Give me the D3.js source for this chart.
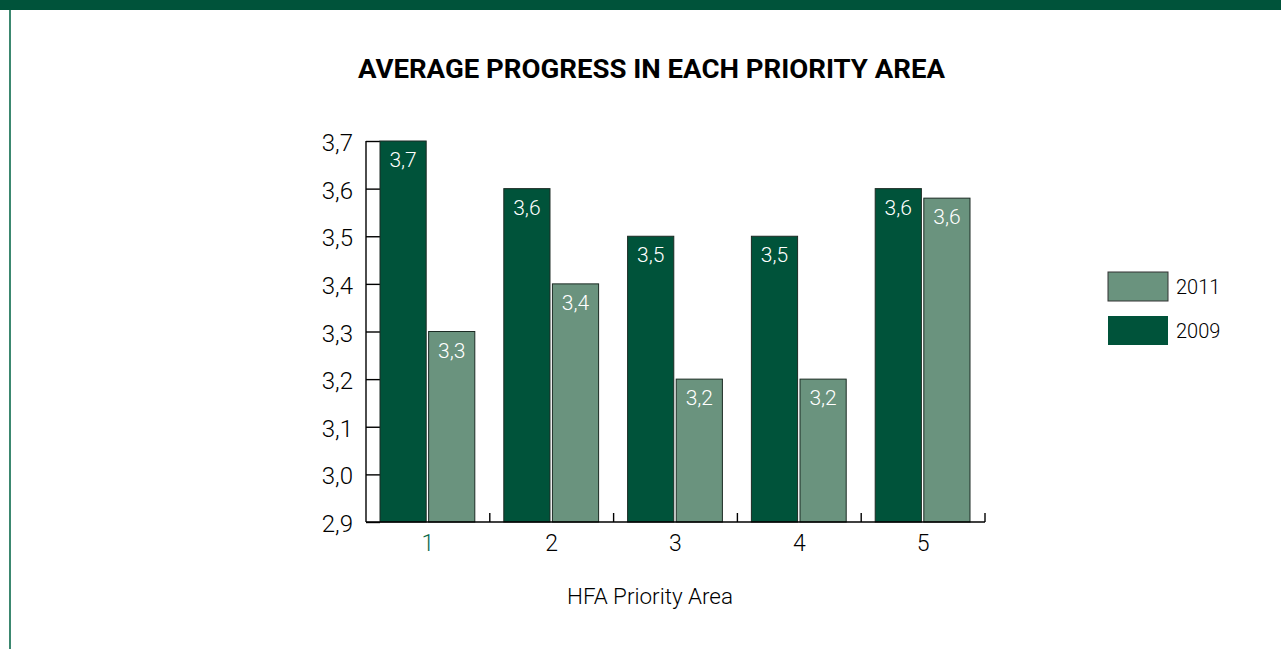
<!DOCTYPE html>
<html>
<head>
<meta charset="utf-8">
<script src="https://cdnjs.cloudflare.com/ajax/libs/d3/7.8.5/d3.min.js"></script>
<style>
  body { margin: 0; background: #fff; }
  text { font-family: "Roboto", "Liberation Sans", sans-serif; font-weight: 300; }
</style>
</head>
<body>
<script>
// chart data
var categories = ["1", "2", "3", "4", "5"];
var series = ["2009", "2011"];
var values2009 = [3.7, 3.6, 3.5, 3.5, 3.6];
var values2011 = [3.3, 3.4, 3.2, 3.2, 3.58];
var yTicks = [2.9, 3.0, 3.1, 3.2, 3.3, 3.4, 3.5, 3.6, 3.7];

var W = 1281, H = 649;
var dark = "#00533a", light = "#6a937e";

var svg = d3.select("body").append("svg")
            .attr("width", W)
            .attr("height", H);

// top band and left rule
svg.append("rect").attr("x", 0).attr("y", 0).attr("width", W).attr("height", 10).attr("fill", dark);
svg.append("line").attr("x1", 10).attr("x2", 10).attr("y1", 10).attr("y2", H)
   .attr("stroke", "#0b6a4c").attr("stroke-width", 1.6);

// title
svg.append("text")
   .attr("x", 358).attr("y", 78)
   .attr("textLength", 587).attr("lengthAdjust", "spacingAndGlyphs")
   .style("font-size", "26px").style("font-weight", "bold")
   .text("AVERAGE PROGRESS IN EACH PRIORITY AREA");

var x0 = d3.scaleBand().domain(categories).range([366, 985]).paddingInner(0).paddingOuter(0);
var x1 = d3.scaleBand().domain(series).range([14, x0.bandwidth() - 15]).paddingInner(0.05);
var y = d3.scaleLinear().domain([2.9, 3.7]).range([522, 141]);

var fmt = function(v) { return d3.format(".1f")(v).replace(".", ","); };

// y axis (ticks pointing inward)
var yAxis = svg.append("g")
   .attr("transform", "translate(366,0)")
   .call(d3.axisRight(y).tickValues(yTicks).tickSize(14).tickFormat(""));
yAxis.select(".domain").attr("stroke", "#000").attr("stroke-width", 1.4).attr("d", "M0,141V522");
yAxis.selectAll(".tick line").attr("stroke", "#000").attr("stroke-width", 1.4);

svg.selectAll(".ylab")
   .data(yTicks)
   .enter()
   .append("text")
   .attr("class", "ylab")
   .attr("x", 353)
   .attr("y", function(d) { return y(d) + 10; })
   .attr("text-anchor", "end")
   .style("font-size", "24px")
   .text(fmt);

var data = categories.map(function(c, i) {
    return {cat: c, vals: [{s: "2009", v: values2009[i]}, {s: "2011", v: values2011[i]}]};
});

var groups = svg.selectAll(".grp")
   .data(data)
   .enter()
   .append("g")
   .attr("transform", function(d) { return "translate(" + x0(d.cat) + ",0)"; });

groups.selectAll("rect")
   .data(function(d) { return d.vals; })
   .enter()
   .append("rect")
   .attr("x", function(d) { return x1(d.s); })
   .attr("y", function(d) { return y(d.v); })
   .attr("width", x1.bandwidth())
   .attr("height", function(d) { return 522 - y(d.v); })
   .attr("fill", function(d) { return d.s == "2009" ? dark : light; })
   .attr("stroke", "#1c2b24")
   .attr("stroke-width", 1);

groups.selectAll(".vlab")
   .data(function(d) { return d.vals; })
   .enter()
   .append("text")
   .attr("class", "vlab")
   .attr("x", function(d) { return x1(d.s) + x1.bandwidth() / 2; })
   .attr("y", function(d) { return y(d.v) + 26; })
   .attr("text-anchor", "middle")
   .attr("fill", "#fff")
   .style("font-size", "21px")
   .text(function(d) { return fmt(d.v); });

// x axis with separator ticks pointing up
var xAxis = svg.append("g")
   .attr("transform", "translate(0,522)");
xAxis.append("line").attr("x1", 366).attr("x2", 985).attr("y1", 0).attr("y2", 0)
   .attr("stroke", "#000").attr("stroke-width", 1.4);
xAxis.selectAll(".sep")
   .data(categories)
   .enter()
   .append("line")
   .attr("x1", function(d) { return x0(d) + x0.bandwidth(); })
   .attr("x2", function(d) { return x0(d) + x0.bandwidth(); })
   .attr("y1", 0).attr("y2", -9)
   .attr("stroke", "#000").attr("stroke-width", 1.4);
xAxis.selectAll(".xlab")
   .data(categories)
   .enter()
   .append("text")
   .attr("x", function(d) { return x0(d) + x0.bandwidth() / 2; })
   .attr("y", 29)
   .attr("text-anchor", "middle")
   .attr("fill", function(d, i) { return i == 0 ? "#0b6a4c" : "#000"; })
   .style("font-size", "23px")
   .text(function(d) { return d; });

svg.append("text")
   .attr("x", 567).attr("y", 604)
   .attr("textLength", 166).attr("lengthAdjust", "spacingAndGlyphs")
   .style("font-size", "22px")
   .text("HFA Priority Area");

// legend
var legendItems = ["2011", "2009"];
var legend = svg.selectAll(".leg")
   .data(legendItems)
   .enter()
   .append("g")
   .attr("transform", function(d, i) { return "translate(1108," + (272 + i * 44) + ")"; });
legend.append("rect")
   .attr("width", 60).attr("height", 29)
   .attr("fill", function(d) { return d == "2009" ? dark : light; })
   .attr("stroke", function(d) { return d == "2009" ? "none" : "#333"; });
legend.append("text")
   .attr("x", 68).attr("y", 22)
   .style("font-size", "20px")
   .text(function(d) { return d; });
</script>
</body>
</html>
